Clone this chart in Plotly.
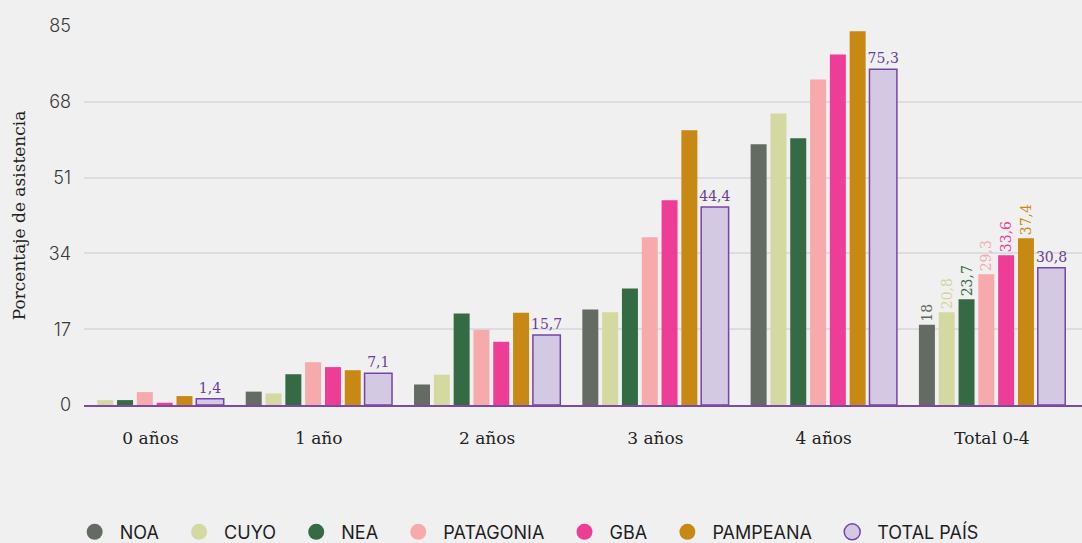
import plotly.graph_objects as go

# categorias y series (porcentaje de asistencia)
categorias = ['0 años', '1 año', '2 años', '3 años', '4 años', 'Total 0-4']
regiones = ['NOA', 'CUYO', 'NEA', 'PATAGONIA', 'GBA', 'PAMPEANA', 'TOTAL PAÍS']

noa = [0, 3.0, 4.6, 21.4, 58.5, 18]
cuyo = [1.1, 2.6, 6.8, 20.8, 65.4, 20.8]
nea = [1.1, 6.9, 20.5, 26.1, 59.8, 23.7]
patagonia = [2.9, 9.6, 16.9, 37.6, 73.0, 29.3]
gba = [0.5, 8.5, 14.2, 45.9, 78.6, 33.6]
pampeana = [2.0, 7.8, 20.7, 61.6, 83.8, 37.4]
total_pais = [1.4, 7.1, 15.7, 44.4, 75.3, 30.8]

y_ticks = [0, 17, 34, 51, 68, 85]

series = [noa, cuyo, nea, patagonia, gba, pampeana, total_pais]
colores = ['#636b63', '#d4d9a1', '#346b45', '#f6aaac', '#ee3d96', '#c78814', '#d4c9e3']
texto_col = ['#5f665f', '#d0d69c', '#346b45', '#f6aaac', '#ee3d96', '#c78814', '#6a3d9a']
borde_total = '#7445a6'


def fmt(v):
    s = ('%g' % v).replace('.', ',')
    return s


fig = go.Figure()

paso = 0.1177
ancho = 0.095
inicio = -0.434

for i, (nombre, vals) in enumerate(zip(regiones, series)):
    es_total = nombre == 'TOTAL PAÍS'
    if es_total:
        textos = [fmt(v) for v in vals]
    else:
        textos = [''] * (len(vals) - 1) + [fmt(vals[-1])]
    fig.add_trace(go.Bar(
        x=categorias,
        y=vals,
        name=nombre,
        showlegend=False,
        offset=inicio + i * paso,
        width=0.163 if es_total else ancho,
        marker=dict(color=colores[i],
                    line=dict(color=borde_total if es_total else colores[i],
                              width=1.5 if es_total else 0)),
        text=textos,
        textposition='outside',
        textangle=0 if es_total else -90,
        constraintext='none',
        cliponaxis=False,
        textfont=dict(family='DejaVu Serif', size=14, color=texto_col[i]),
        hoverinfo='x+y+name',
    ))

# leyenda con circulos (espacios extra para separar los items)
for i, nombre in enumerate(regiones):
    es_total = nombre == 'TOTAL PAÍS'
    fig.add_trace(go.Scatter(
        x=[None], y=[None],
        mode='markers',
        name='\u00a0' + nombre + '\u00a0' * 3,
        marker=dict(size=16, color=colores[i], symbol='circle',
                    line=dict(color=borde_total if es_total else colores[i],
                              width=1.5 if es_total else 0)),
    ))

fig.update_layout(
    width=1082,
    height=543,
    barmode='overlay',
    paper_bgcolor='#f0f0f0',
    plot_bgcolor='#f0f0f0',
    margin=dict(l=84, r=0, t=26, b=138),
    legend=dict(
        orientation='h',
        xref='container',
        x=0.069, xanchor='left',
        yref='container',
        y=0.02, yanchor='middle',
        font=dict(family='Inter', size=18, color='#1e1e1e'),
        itemsizing='trace',
        bgcolor='rgba(0,0,0,0)',
    ),
    xaxis=dict(
        range=[-0.395, 5.535],
        showgrid=False,
        zeroline=False,
        showline=True,
        linecolor='#7b4aa8',
        linewidth=2,
        ticks='',
        ticklabelstandoff=17,
        tickfont=dict(family='DejaVu Serif', size=17, color='#222222'),
    ),
    yaxis=dict(
        range=[0, 85],
        tickvals=y_ticks,
        showgrid=True,
        gridcolor='#dddce2',
        gridwidth=2,
        zeroline=False,
        ticks='',
        ticklabelstandoff=12,
        tickfont=dict(family='Inter', size=18, color='#3a3a3a', weight=300),
        title=dict(text='Porcentaje de asistencia', standoff=18,
                   font=dict(family='DejaVu Serif', size=17, color='#222222')),
    ),
)

fig.write_html("out.html", config={'displayModeBar': False},
               post_script="document.body.style.margin='0';")
